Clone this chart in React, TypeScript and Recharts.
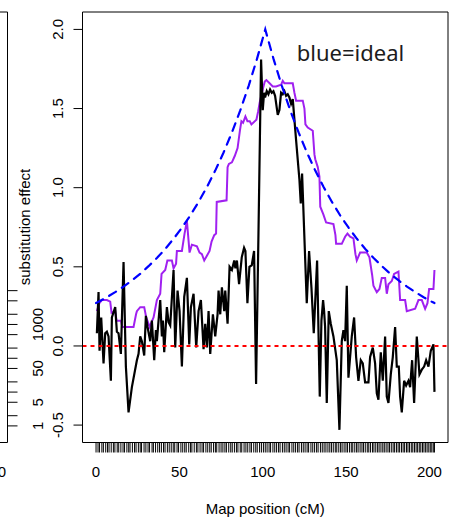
import { LineChart, Line, XAxis, YAxis, ReferenceLine, ReferenceDot, Label } from "recharts"

// marker positions along the chromosome (cM), shown as a rug under the plot
const markerPos = [
  0, 1.2, 2.1, 3.5, 4.4, 5.8, 6.9, 7.8, 9.1, 10.4, 11.3, 12.7, 13.6, 14.9, 16.2, 17.1, 18.5, 19.6, 20.4,
  21.8, 23.1, 24.0, 25.4, 26.5, 27.3, 28.8, 29.9, 31.2, 32.1, 33.6, 34.4, 35.7, 37.0, 38.1, 39.2, 40.5,
  41.4, 42.8, 43.9, 45.1, 46.3, 47.2, 48.6, 49.5, 50.9, 52.0, 53.2, 54.1, 55.6, 56.7, 57.5, 58.9, 60.2,
  61.1, 62.4, 63.6, 64.5, 65.9, 67.0, 68.2, 69.1, 70.5, 71.6, 72.4, 73.8, 75.0, 76.1, 77.3, 78.2, 79.6, 80.8,
  81.7, 83.0, 84.2, 85.1, 86.5, 87.4, 88.8, 89.9, 91.0, 92.3, 93.2, 94.6, 95.8, 96.7, 98.1, 99.2, 100.4,
  101.5, 102.6, 103.8, 104.7, 106.1, 107.2, 108.3, 109.5, 110.4, 111.8, 112.9, 114.0, 115.2, 116.1, 117.5, 118.6, 119.7,
  120.9, 121.8, 123.2, 124.3, 125.4, 126.6, 127.5, 128.9, 130.0, 131.1, 132.3, 133.2, 134.6, 135.7, 136.8, 137.9, 139.1, 140.2,
  141.2, 142.3, 143.5, 144.4, 145.6, 146.7, 147.6, 148.8, 149.9, 150.8, 152.0, 153.1, 154.0, 155.2, 156.3, 157.2, 158.4, 159.5,
  160.4, 161.5, 162.7, 163.6, 164.6, 165.8, 166.7, 167.8, 168.9, 169.8, 170.9, 172.0, 172.9, 174.0, 175.1, 176.0, 177.1, 178.2, 179.1,
  180.2, 181.2, 182.1, 183.2, 184.2, 185.1, 186.2, 187.1, 188.0, 189.1, 190.0, 191.0, 192.0, 192.9, 193.9, 194.8, 195.8, 196.7,
  197.7, 198.6, 199.6, 200.5, 201.4, 202.3, 203.0,
]

// single-marker estimate (black)
const estPos = [
  0.5, 1.5, 2.1, 3.1, 4.5, 5.5, 6.5, 7.5, 8.9, 9.5, 11.5, 12.5, 13.5, 14.9, 16.5, 17.9, 19.5, 21.5, 24.5, 25.5,
  26.5, 27.5, 28.9, 29.9, 30.9, 32.5, 33.5, 34.9, 35.9, 36.5, 38.5, 39.5, 40.1, 40.9, 42.5, 43.5, 44.5, 46.5, 47.5, 48.9,
  50.1, 51.5, 52.9, 54.5, 55.9, 56.9, 58.5, 60.1, 61.5, 62.9, 64.5, 65.5, 66.5, 67.5, 68.5, 70.1, 71.5, 72.9, 73.5, 74.5,
  75.5, 76.9, 77.5, 78.9, 80.1, 81.5, 82.9, 83.6, 84.5, 85.8, 87.4, 88.8, 89.6, 90.8, 92.0, 93.4, 94.8, 96.0, 97.4, 99.0,
  100.0, 100.8, 101.4, 102.4, 103.4, 104.4, 105.4, 106.4, 107.4, 109.0, 110.0, 111.0, 112.0, 113.0, 114.0, 115.0, 116.0, 117.0, 118.0, 120.0,
  122.0, 122.8, 123.6, 126.4, 127.8, 129.2, 130.6, 132.6, 134.2, 135.2, 136.2, 136.8, 137.4, 138.4, 139.6, 140.8, 142.4, 144.4, 146.0, 147.4,
  148.4, 149.4, 150.4, 151.4, 153.4, 154.8, 156.0, 157.4, 158.8, 160.0, 161.4, 163.4, 164.4, 166.0, 167.4, 168.4, 169.4, 170.8, 172.0, 173.4,
  174.4, 175.4, 176.8, 178.0, 179.4, 180.4, 181.6, 182.4, 183.4, 184.8, 186.0, 187.4, 188.4, 189.6, 190.8, 192.4, 194.0, 195.4, 196.8, 198.0,
  199.4, 200.8, 202.4, 203.0,
]
const estEffect = [
  0.08, 0.34, -0.03, 0.18, -0.11, 0.08, 0.09, 0.06, -0.22, 0.18, 0.245, 0.09, 0.08, -0.05, 0.53, -0.13, -0.42, -0.26, -0.09, -0.05,
  0.06, 0.03, -0.06, 0.19, 0.12, 0.03, 0.16, -0.09, 0.1, 0.03, 0.29, 0.06, 0.16, -0.04, 0.245, 0.15, 0.13, 0.48, -0.01, 0.35,
  0.22, -0.13, 0.31, 0.43, 0.01, 0.245, 0.33, -0.01, 0.22, 0.29, -0.02, 0.14, -0.01, 0.22, -0.05, 0.2, 0.06, 0.2, 0.35, 0.2,
  0.37, 0.22, 0.35, 0.14, 0.5, 0.48, 0.54, 0.49, 0.54, 0.39, 0.56, 0.62, 0.6, 0.27, 0.5, 0.51, 0.6, -0.24, 0.69, 1.81,
  1.49, 1.6, 1.57, 1.61, 1.59, 1.62, 1.6, 1.61, 1.58, 1.46, 1.49, 1.6, 1.59, 1.61, 1.58, 1.59, 1.57, 1.53, 1.56, 1.3,
  1.05, 0.9, 1.09, 0.27, 0.6, 0.37, 0.08, 0.54, -0.32, 0.16, 0.29, 0.22, 0.12, -0.36, 0.22, 0.14, 0.06, -0.09, -0.53, 0.03,
  0.1, 0.03, 0.38, -0.2, 0.06, 0.18, -0.07, -0.22, -0.09, -0.11, -0.23, -0.23, -0.07, -0.01, -0.11, -0.3, -0.34, -0.04, -0.22, 0.06,
  -0.32, -0.36, -0.18, -0.07, 0.12, -0.13, -0.13, -0.32, -0.42, -0.22, -0.25, -0.22, -0.26, -0.09, -0.36, 0.06, -0.18, -0.15, -0.13, -0.09,
  -0.13, -0.03, 0.01, -0.29,
]

// interval estimate (purple)
const ivalPos = [
  0.5, 2.0, 3.5, 6.5, 8.5, 9.3, 11.5, 12.3, 14.9, 15.8, 22.5, 24.0, 24.5, 26.5, 28.9, 30.1, 31.5, 32.1, 34.5, 36.5,
  38.5, 39.3, 41.5, 42.8, 45.5, 46.5, 48.0, 48.5, 51.5, 53.1, 54.5, 56.1, 57.5, 60.5, 62.1, 63.5, 64.9, 66.5, 68.1, 69.3,
  70.9, 72.0, 72.4, 78.3, 78.9, 79.7, 81.5, 83.2, 84.9, 86.3, 87.2, 88.2, 89.6, 90.8, 92.2, 93.2, 96.2, 97.2, 98.2, 100.2,
  101.2, 102.2, 104.1, 106.0, 108.0, 111.0, 112.0, 113.0, 118.0, 119.0, 120.0, 124.0, 125.0, 125.6, 127.0, 130.0, 131.0, 131.5, 133.0, 134.0,
  134.5, 136.4, 138.0, 142.4, 143.6, 144.0, 147.4, 149.4, 150.8, 152.4, 154.4, 155.6, 156.4, 158.4, 162.4, 164.0, 165.6, 166.4, 168.4, 170.0,
  171.4, 173.4, 174.4, 175.4, 177.4, 178.8, 181.4, 182.4, 185.4, 186.4, 191.4, 193.4, 195.4, 197.4, 198.8, 199.8, 202.4, 203.0,
]
const ivalEffect = [
  0.22, 0.27, 0.29, 0.29, 0.28, 0.21, 0.22, 0.16, 0.16, 0.12, 0.12, 0.2, 0.22, 0.245, 0.245, 0.18, 0.14, 0.12, 0.18, 0.29,
  0.33, 0.455, 0.48, 0.54, 0.54, 0.49, 0.52, 0.6, 0.6, 0.71, 0.79, 0.59, 0.64, 0.63, 0.59, 0.58, 0.54, 0.57, 0.6, 0.66,
  0.7, 0.71, 0.91, 0.92, 1.13, 1.15, 1.16, 1.2, 1.25, 1.36, 1.42, 1.41, 1.45, 1.42, 1.42, 1.4, 1.43, 1.48, 1.54, 1.63,
  1.67, 1.68, 1.66, 1.64, 1.64, 1.65, 1.675, 1.66, 1.66, 1.6, 1.55, 1.55, 1.5, 1.4, 1.38, 1.36, 1.21, 1.18, 1.13, 1.07,
  0.88, 0.83, 0.78, 0.77, 0.7, 0.645, 0.645, 0.69, 0.71, 0.69, 0.68, 0.58, 0.54, 0.59, 0.59, 0.56, 0.45, 0.38, 0.34, 0.36,
  0.43, 0.43, 0.33, 0.39, 0.41, 0.455, 0.47, 0.29, 0.29, 0.22, 0.235, 0.29, 0.29, 0.235, 0.27, 0.36, 0.36, 0.48,
]

// ideal effect profile (blue dashed)
const idealPos = [
  0, 1.5, 6.5, 11.5, 16.5, 21.5, 26.5, 31.5, 36.5, 41.5, 46.5, 51.5, 56.5, 61.5, 66.5, 71.5, 76.5, 81.5, 86.5, 91.5, 96.5,
  101.5, 106.5, 111.5, 116.5, 121.5, 126.5, 131.5, 136.5, 141.5, 146.5, 151.5, 156.5, 161.5, 166.5, 171.5, 176.5, 181.5,
  186.5, 191.5, 196.5, 201.5, 203,
]
const idealEffect = [
  0.271, 0.279, 0.308, 0.34, 0.375, 0.414, 0.456, 0.504, 0.556, 0.613, 0.677, 0.747, 0.824, 0.91, 1.004, 1.108, 1.222,
  1.349, 1.488, 1.642, 1.812, 2.0, 1.812, 1.642, 1.488, 1.349, 1.222, 1.108, 1.004, 0.91, 0.824, 0.747, 0.677, 0.613,
  0.556, 0.504, 0.456, 0.414, 0.375, 0.34, 0.308, 0.279, 0.271,
]

const xTicks = [0, 50, 100, 150, 200]
const yTicks = [-0.5, 0, 0.5, 1, 1.5, 2]
const sideTicks = [1, 2, 5, 10, 20, 50, 100, 200, 500, 1000, 2000, 5000, 10000]
const sideLabels = [1, 5, 50, 1000]
const sideXTicks = [0]

// one table for all three curves, each row carrying a single value
const curveRows = [
  ...estPos.map((pos, i) => ({ pos, est: estEffect[i] })),
  ...ivalPos.map((pos, i) => ({ pos, ival: ivalEffect[i] })),
  ...idealPos.map((pos, i) => ({ pos, ideal: idealEffect[i] })),
].sort((a, b) => a.pos - b.pos)

// the neighbouring panel only needs its axis positions
const sideRows = sideXTicks.map((pos) => ({ pos }))

const xDomain = [-8.12, 211.12]
const yDomain = [-0.61, 2.11]
const sideX = [-2, 5.5]
const sideY = [0.3228, 1.74e12]
const FONT = 15

const NoTick = () => <g />

function EffectTick({ x, y, payload }: any) {
  const bx = x - 10.5
  return (
    <text x={bx} y={y} transform={`rotate(-90 ${bx} ${y})`} textAnchor="middle" fontSize={FONT} fill="#000">
      {Number(payload.value).toFixed(1)}
    </text>
  )
}

function SideTick({ x, y, payload }: any) {
  if (!sideLabels.includes(payload.value)) return <g />
  const bx = x + 25.2
  return (
    <text x={bx} y={y} transform={`rotate(-90 ${bx} ${y})`} textAnchor="middle" fontSize={FONT} fill="#000">
      {payload.value}
    </text>
  )
}

function EffectTitle({ viewBox }: any) {
  const bx = viewBox.x + 29.5
  const cy = 227
  return (
    <text x={bx} y={cy} transform={`rotate(-90 ${bx} ${cy})`} textAnchor="middle" fontSize={FONT} fill="#000">
      substitution effect
    </text>
  )
}

function IdealNote({ cx, cy }: any) {
  return (
    <text x={cx} y={cy} fontSize={22} fontFamily="Noto Sans" fill="#1c1c1c">
      blue=ideal
    </text>
  )
}

const black = { stroke: "#000", strokeWidth: 1 }

export default function App() {
  return (
    <div style={{ position: "absolute", left: 0, top: 0, width: 451, height: 518, background: "#fff", fontFamily: "'Liberation Sans', Arial, sans-serif" }}>
      {/* right edge of the neighbouring panel */}
      <div style={{ position: "absolute", left: 0, top: 0 }}>
        <LineChart data={sideRows} width={60} height={518} margin={{ top: 4, right: 0, bottom: 0, left: 0 }}>
          <XAxis xAxisId="stop" orientation="top" dataKey="pos" type="number" domain={sideX} allowDataOverflow ticks={sideXTicks}
            interval={0} height={8} tick={NoTick} tickLine={false} axisLine={black} />
          <XAxis xAxisId="side" dataKey="pos" type="number" domain={sideX} allowDataOverflow ticks={sideXTicks} interval={0}
            height={75.5} axisLine={black} tickLine={false} tickSize={0} tickMargin={23.5} tick={{ fill: "#000", fontSize: FONT }} />
          <YAxis yAxisId="side" orientation="right" scale="log" type="number" domain={sideY} allowDataOverflow
            ticks={sideTicks} interval={0} width={52.5} tickSize={10} tickMargin={0} stroke="#000" tick={<SideTick />} />
        </LineChart>
      </div>
      <div style={{ position: "absolute", left: 0, top: 0 }}>
        <LineChart data={curveRows} width={451} height={518} margin={{ top: 4, right: 2, bottom: 0, left: 0.5 }}>
          <XAxis xAxisId="frame" orientation="top" type="number" domain={xDomain} allowDataOverflow ticks={xTicks} interval={0}
            height={8} tick={NoTick} tickLine={false} axisLine={black} />
          <XAxis xAxisId="mark" dataKey="pos" type="number" domain={xDomain} allowDataOverflow ticks={markerPos} interval={0}
            height={10} tick={NoTick} tickSize={10} axisLine={black} tickLine={black} />
          <XAxis xAxisId="pos" dataKey="pos" type="number" domain={xDomain} allowDataOverflow ticks={xTicks} interval={0}
            height={65.5} axisLine={false} tickLine={false} tickSize={0} tickMargin={13.5} tick={{ fill: "#000", fontSize: FONT }}>
            <Label value="Map position (cM)" position="insideBottom" offset={4} fill="#000" fontSize={FONT} />
          </XAxis>
          <YAxis yAxisId="eff" type="number" domain={yDomain} allowDataOverflow ticks={yTicks} interval={0} width={82}
            tickSize={9} tickMargin={0} stroke="#000" tick={<EffectTick />} label={<EffectTitle />} />
          <YAxis yAxisId="frame" orientation="right" type="number" domain={yDomain} allowDataOverflow ticks={yTicks} width={1}
            tick={NoTick} tickLine={false} axisLine={black} />

          <Line xAxisId="pos" yAxisId="eff" dataKey="ival" type="linear" stroke="#A020F0" strokeWidth={2}
            connectNulls dot={false} activeDot={false} isAnimationActive={false} />
          <Line xAxisId="pos" yAxisId="eff" dataKey="est" type="linear" stroke="#000" strokeWidth={2.2}
            connectNulls dot={false} activeDot={false} isAnimationActive={false} />
          <Line xAxisId="pos" yAxisId="eff" dataKey="ideal" type="linear" stroke="#0000FF" strokeWidth={2.2}
            strokeDasharray="8 7" strokeLinecap="round" connectNulls dot={false} activeDot={false} isAnimationActive={false} />
          <ReferenceLine xAxisId="pos" yAxisId="eff" y={0} stroke="#FF0000" strokeWidth={2} strokeDasharray="4 4" />
          <ReferenceDot xAxisId="pos" yAxisId="eff" x={120.4} y={1.8} r={0} shape={<IdealNote />} />
        </LineChart>
      </div>
    </div>
  )
}
